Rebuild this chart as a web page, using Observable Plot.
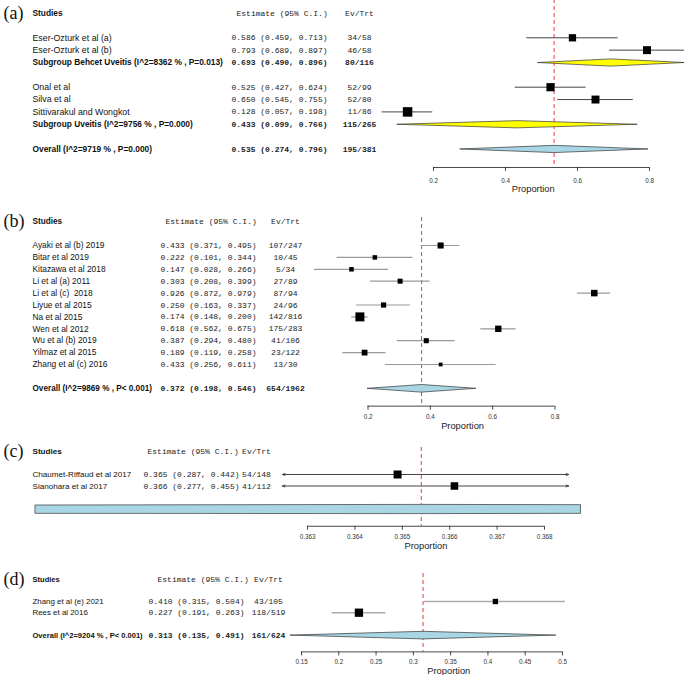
<!DOCTYPE html>
<html><head><meta charset="utf-8">
<script src="https://cdn.jsdelivr.net/npm/d3@7"></script>
<script src="https://cdn.jsdelivr.net/npm/@observablehq/plot@0.6"></script>
<style>
body{margin:0;background:#fff}
#chart{position:relative;width:686px;height:675px;overflow:hidden;background:#fff}
#chart svg{position:absolute;left:0}
#chart text{white-space:pre}
</style></head><body><div id="chart"></div>
<script>
// ---------- Panel (a) ----------
const aNames = ["Eser-Ozturk et al (a)", "Eser-Ozturk et al (b)", "Onal et al", "Silva et al", "Sittivarakul and Wongkot"];
const aGroupOf = [0, 0, 1, 1, 1];
const aEst = [0.586, 0.793, 0.525, 0.650, 0.128];
const aLo  = [0.459, 0.689, 0.427, 0.545, 0.057];
const aHi  = [0.713, 0.897, 0.624, 0.755, 0.198];
const aEv  = [34, 46, 52, 52, 11];
const aTrt = [58, 58, 99, 80, 86];
const aSubNames = ["Subgroup Behcet Uveitis (I^2=8362 % , P=0.013)", "Subgroup Uveitis (I^2=9756 % , P=0.000)"];
const aSubEst = [0.693, 0.433];
const aSubLo  = [0.490, 0.099];
const aSubHi  = [0.896, 0.766];
const aSubEv  = [80, 115];
const aSubTrt = [116, 265];
const aOverall = ["Overall (I^2=9719 % , P=0.000)", 0.535, 0.274, 0.796, 195, 381];
const aTicks = [0.2, 0.4, 0.6, 0.8];

// ---------- Panel (b) ----------
const bNames = ["Ayaki et al (b) 2019", "Bitar et al 2019", "Kitazawa et al 2018", "Li et al (a) 2011", "Li et al (c)  2018",
  "Liyue et al 2015", "Na et al 2015", "Wen et al 2012", "Wu et al (b) 2019", "Yilmaz et al 2015", "Zhang et al (c) 2016"];
const bEst = [0.433, 0.222, 0.147, 0.303, 0.926, 0.250, 0.174, 0.618, 0.387, 0.189, 0.433];
const bLo  = [0.371, 0.101, 0.028, 0.208, 0.872, 0.163, 0.148, 0.562, 0.294, 0.119, 0.256];
const bHi  = [0.495, 0.344, 0.266, 0.399, 0.979, 0.337, 0.200, 0.675, 0.480, 0.258, 0.611];
const bEv  = [107, 10, 5, 27, 87, 24, 142, 175, 41, 23, 13];
const bTrt = [247, 45, 34, 89, 94, 96, 816, 283, 106, 122, 30];
const bOverall = ["Overall (I^2=9869 % , P< 0.001)", 0.372, 0.198, 0.546, 654, 1962];
const bTicks = [0.2, 0.4, 0.6, 0.8];

// ---------- Panel (c) ----------
const cNames = ["Chaumet-Riffaud et al 2017", "Sianohara et al 2017"];
const cEst = [0.3649, 0.3661];
const cLo  = [0.287, 0.277];
const cHi  = [0.442, 0.455];
const cEv  = [54, 41];
const cTrt = [148, 112];
const cOverall = ["", 0.3654, 0.306, 0.424, 95, 260];
const cTicks = [0.363, 0.364, 0.365, 0.366, 0.367, 0.368];

// ---------- Panel (d) ----------
const dNames = ["Zhang et al (e) 2021", "Rees et al 2016"];
const dEst = [0.410, 0.227];
const dLo  = [0.315, 0.191];
const dHi  = [0.504, 0.263];
const dEv  = [43, 118];
const dTrt = [105, 519];
const dOverall = ["Overall (I^2=9204 % , P< 0.001)", 0.313, 0.135, 0.491, 161, 624];
const dTicks = [0.15, 0.2, 0.25, 0.3, 0.35, 0.4, 0.45, 0.5];

// ---------- helpers ----------
const FONT = "'Liberation Sans', Arial, Helvetica, sans-serif";
const MONO = "'Liberation Mono', 'Courier New', monospace";
const SERIF = "'Liberation Serif', 'Times New Roman', serif";
const MONO_SIZE = 8.0;
const f3 = v => v.toFixed(3);

function studiesFrom(names, est, lo, hi, ev, trt) {
  return names.map((name, i) => ({name, est: est[i], lo: lo[i], hi: hi[i], ev: ev[i], trt: trt[i]}));
}
function overallFrom(o) {
  return {name: o[0], est: o[1], lo: o[2], hi: o[3], ev: o[4], trt: o[5], text: o[0] !== ""};
}
function buildRows(groups, overall) {
  const rows = [{type: "header", row: 0}];
  let r = 2;
  groups.forEach((g, gi) => {
    if (gi > 0) r += 1;
    g.studies.forEach(s => rows.push({...s, type: "study", row: r++, text: true}));
    if (g.sub) rows.push({...g.sub, type: "sub", row: r++, text: true});
  });
  r += 1;
  rows.push({...overall, type: "overall", row: r});
  return rows;
}
function diamond(d, id, hh, lim) {
  const [a, b] = lim || [-Infinity, Infinity];
  const pts = [];
  if (d.lo < a) { const f = (a - d.lo) / (d.est - d.lo); pts.push({x: a, y: d.row + hh * f}, {x: a, y: d.row - hh * f}); }
  else pts.push({x: d.lo, y: d.row});
  pts.push({x: d.est, y: d.row - hh});
  if (d.hi > b) { const f = (d.hi - b) / (d.hi - d.est); pts.push({x: b, y: d.row - hh * f}, {x: b, y: d.row + hh * f}); }
  else pts.push({x: d.hi, y: d.row});
  pts.push({x: d.est, y: d.row + hh});
  return pts.map(p => ({...p, id}));
}

// ---------- panel data ----------
const aStudies = studiesFrom(aNames, aEst, aLo, aHi, aEv, aTrt);
const aSubs = studiesFrom(aSubNames, aSubEst, aSubLo, aSubHi, aSubEv, aSubTrt);
const panels = [
  {label: "(a)", top: 0, height: 200, yHeader: 12.6, rowH: 12.35,
   rows: buildRows(aSubs.map((s, gi) => ({studies: aStudies.filter((_, i) => aGroupOf[i] === gi), sub: s})), overallFrom(aOverall)),
   xDomain: [0.2, 0.8], xRange: [433, 649], ticks: aTicks,
   nameX: 32, estX: 231, estHdrDx: 5, evX: 359, nameSize: 8.8, boldSize: 8.35,
   maxSide: 9.5, ciColor: "#444", ciWidth: 1, diamondH: 3.6, dashTop: -1.1, tickDy: 13, propDy: 22},
  {label: "(b)", top: 200, height: 240, yHeader: 21.2, rowH: 11.9,
   rows: buildRows([{studies: studiesFrom(bNames, bEst, bLo, bHi, bEv, bTrt)}], overallFrom(bOverall)),
   xDomain: [0.2, 0.8], xRange: [367.5, 554.5], ticks: bTicks,
   nameX: 32, estX: 160, estHdrDx: 5, evX: 285, nameSize: 8.4, boldSize: 8.2,
   maxSide: 9, ciColor: "#999", ciWidth: 1.2, diamondH: 3.8, dashTop: -0.35, tickDy: 10.5, propDy: 19.5},
  {label: "(c)", top: 440, height: 120, yHeader: 11, rowH: 11.5,
   rows: buildRows([{studies: studiesFrom(cNames, cEst, cLo, cHi, cEv, cTrt)}], overallFrom(cOverall)),
   xDomain: [0.363, 0.368], xRange: [307, 544], ticks: cTicks, clip: [0.36247, 0.36851], barClip: [0.35725, 0.36876],
   nameX: 32, estX: 143, estHdrDx: 4, evX: 256, nameSize: 8.1, boldSize: 8.1,
   maxSide: 8, ciColor: "#444", ciWidth: 1, diamondH: 4.6, dashTop: -0.35, tickDy: 10.5, propDy: 19.5},
  {label: "(d)", top: 560, height: 115, yHeader: 18.6, rowH: 11.2,
   rows: buildRows([{studies: studiesFrom(dNames, dEst, dLo, dHi, dEv, dTrt)}], overallFrom(dOverall)),
   xDomain: [0.15, 0.5], xRange: [301, 562], ticks: dTicks,
   nameX: 32, estX: 148, estHdrDx: 9, evX: 268, nameSize: 7.9, boldSize: 7.55,
   maxSide: 8.3, ciColor: "#aaa", ciWidth: 1.6, diamondH: 3.8, dashTop: -0.5, tickDy: 10, propDy: 19}
];

const chart = document.getElementById("chart");

for (const cfg of panels) {
  const rows = cfg.rows;
  const studies = rows.filter(d => d.type === "study");
  const subs = rows.filter(d => d.type === "sub");
  const overall = rows.find(d => d.type === "overall");
  const axisRow = overall.row + 1.5;
  const hh = cfg.diamondH / cfg.rowH;
  const minW = d3.min(studies, d => d.hi - d.lo);
  const side = d => cfg.maxSide * Math.pow(minW / (d.hi - d.lo), 0.45);
  const textRows = rows.filter(d => d.type !== "header" && d.text);
  const boldRows = textRows.filter(d => d.type !== "study");
  const normRows = textRows.filter(d => d.type === "study");
  const labelX = cfg.clip ? (d3.min(cfg.ticks) + d3.max(cfg.ticks)) / 2
    : (d3.min(studies, d => d.lo) + d3.max(studies, d => d.hi)) / 2;

  const marks = [];
  // reference (overall estimate) line
  marks.push(Plot.ruleX([overall.est], {x: d => d, y1: cfg.dashTop, y2: axisRow, stroke: "#ee3a3a", strokeDasharray: "4,3", strokeWidth: 1}));
  // confidence intervals
  if (cfg.clip) {
    const [a, b] = cfg.clip;
    marks.push(Plot.arrow(studies, {x1: "est", x2: d => Math.max(d.lo, a), y1: "row", y2: "row", stroke: cfg.ciColor, strokeWidth: cfg.ciWidth, headLength: 4, headAngle: 40}));
    marks.push(Plot.arrow(studies, {x1: "est", x2: d => Math.min(d.hi, b), y1: "row", y2: "row", stroke: cfg.ciColor, strokeWidth: cfg.ciWidth, headLength: 4, headAngle: 40}));
  } else {
    marks.push(Plot.ruleY(studies, {y: "row", x1: "lo", x2: "hi", stroke: cfg.ciColor, strokeWidth: cfg.ciWidth}));
  }
  // study squares
  marks.push(Plot.dot(studies, {x: "est", y: "row", r: d => side(d) / Math.sqrt(Math.PI), symbol: "square", fill: "black", stroke: "none"}));
  // subgroup diamonds
  if (subs.length) {
    marks.push(Plot.line(subs.flatMap((d, i) => diamond(d, "s" + i, hh)), {x: "x", y: "y", z: "id", curve: "linear-closed", fill: "#ffff00", stroke: "#333", strokeWidth: 0.7}));
  }
  // overall diamond
  marks.push(Plot.line(diamond(overall, "o", hh, cfg.barClip), {x: "x", y: "y", z: "id", curve: "linear-closed", fill: "#a9d6e5", stroke: "#333", strokeWidth: 0.7}));
  // axis
  marks.push(Plot.ruleY([axisRow], {y: d => d, x1: d3.min(cfg.ticks), x2: d3.max(cfg.ticks), stroke: "#333", strokeWidth: 0.9}));
  marks.push(Plot.ruleX(cfg.ticks, {x: d => d, y1: axisRow, y2: axisRow + 4 / cfg.rowH, stroke: "#333", strokeWidth: 0.9}));
  marks.push(Plot.text(cfg.ticks, {x: d => d, y: () => axisRow, dy: cfg.tickDy, text: d => String(d), fontSize: 6.3, fill: "#333", fontFamily: FONT}));
  marks.push(Plot.text(["Proportion"], {x: () => labelX, y: () => axisRow, dy: cfg.propDy, text: d => d, fontSize: 9.3, fill: "#222", fontFamily: FONT}));
  // panel label and header
  const header = rows.filter(d => d.type === "header");
  marks.push(Plot.text(header, {y: "row", text: () => cfg.label, frameAnchor: "left", dx: 3, textAnchor: "start", fontSize: 18, fontFamily: SERIF, fill: "#111"}));
  marks.push(Plot.text(header, {y: "row", text: () => "Studies", frameAnchor: "left", dx: cfg.nameX, textAnchor: "start", fontSize: cfg.boldSize, fontWeight: "bold", fontFamily: FONT, fill: "#111"}));
  marks.push(Plot.text(header, {y: "row", text: () => "Estimate (95% C.I.)", frameAnchor: "left", dx: cfg.estX + cfg.estHdrDx, textAnchor: "start", fontSize: MONO_SIZE, fontFamily: MONO, fill: "#222"}));
  marks.push(Plot.text(header, {y: "row", text: () => "Ev/Trt", frameAnchor: "left", dx: cfg.evX, textAnchor: "middle", fontSize: MONO_SIZE, fontFamily: MONO, fill: "#222"}));
  // table columns
  for (const [set, weight, size] of [[normRows, "normal", cfg.nameSize], [boldRows, "bold", cfg.boldSize]]) {
    marks.push(Plot.text(set, {y: "row", text: "name", frameAnchor: "left", dx: cfg.nameX, textAnchor: "start", fontSize: size, fontWeight: weight, fontFamily: FONT, fill: "#111"}));
    marks.push(Plot.text(set, {y: "row", text: d => `${f3(d.est)} (${f3(d.lo)}, ${f3(d.hi)})`, frameAnchor: "left", dx: cfg.estX, textAnchor: "start", fontSize: MONO_SIZE, fontWeight: weight, fontFamily: MONO, fill: "#222"}));
    marks.push(Plot.text(set, {y: "row", text: d => `${d.ev}/${d.trt}`, frameAnchor: "left", dx: cfg.evX, textAnchor: "middle", fontSize: MONO_SIZE, fontWeight: weight, fontFamily: MONO, fill: "#222"}));
  }

  const svg = Plot.plot({
    width: 686, height: cfg.height,
    marginTop: 0, marginRight: 0, marginBottom: 0, marginLeft: 0,
    style: {fontFamily: FONT, background: "transparent", overflow: "visible"},
    x: {type: "linear", domain: cfg.xDomain, range: cfg.xRange, axis: null},
    y: {type: "linear", domain: [0, 1], range: [cfg.yHeader, cfg.yHeader + cfg.rowH], axis: null},
    r: {type: "identity"},
    marks
  });
  svg.style.top = cfg.top + "px";
  chart.appendChild(svg);
}
</script></body></html>
